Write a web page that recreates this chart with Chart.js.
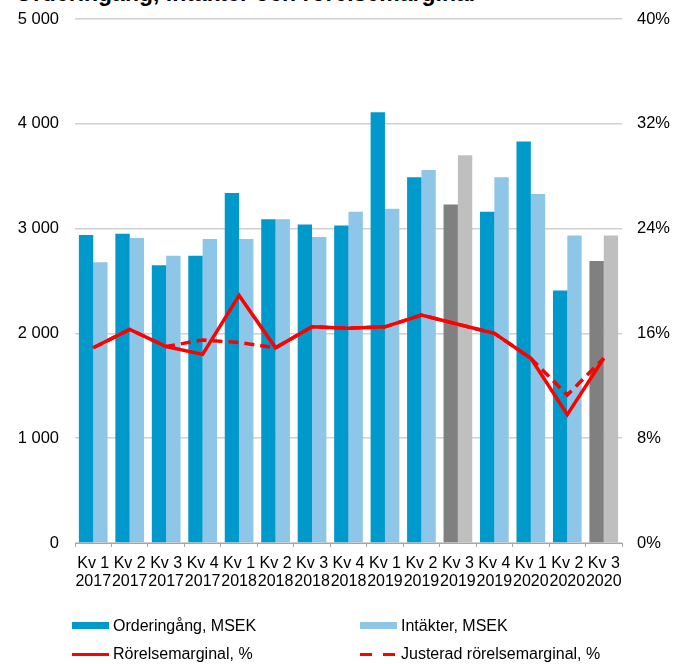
<!DOCTYPE html>
<html>
<head>
<meta charset="utf-8">
<script src="https://cdn.jsdelivr.net/npm/chart.js@4.4.1/dist/chart.umd.min.js"></script>
<style>
  html, body { margin: 0; padding: 0; background: #fff; }
  body { width: 675px; height: 664px; position: relative; overflow: hidden; font-family: "Liberation Sans", Arial, sans-serif; }
  #chart { position: absolute; left: 0; top: 0; }
  .title { position: absolute; left: 15px; top: -18px; font-size: 23px; line-height: 23px; font-weight: bold; color: #000; white-space: nowrap; }
  .legend-item { position: absolute; font-size: 16px; line-height: 16px; color: #000; white-space: nowrap; }
  .swatch { position: absolute; }
</style>
</head>
<body>
<div class="title">Orderingång, intäkter och rörelsemarginal</div>
<canvas id="chart" width="675" height="664"></canvas>
<div id="legend"></div>
<script>
const QUARTERS = ["Kv 1", "Kv 2", "Kv 3", "Kv 4", "Kv 1", "Kv 2", "Kv 3", "Kv 4", "Kv 1", "Kv 2", "Kv 3", "Kv 4", "Kv 1", "Kv 2", "Kv 3"];
const YEARS = ["2017", "2017", "2017", "2017", "2018", "2018", "2018", "2018", "2019", "2019", "2019", "2019", "2020", "2020", "2020"];

// MSEK, left axis
const ORDERINGANG = [2940, 2950, 2650, 2740, 3340, 3090, 3040, 3030, 4110, 3490, 3230, 3160, 3830, 2410, 2690];
const INTAKTER = [2680, 2910, 2740, 2900, 2900, 3090, 2920, 3160, 3190, 3560, 3700, 3490, 3330, 2935, 2935];

// %, right axis
const RORELSEMARGINAL = [14.9, 16.3, 15.0, 14.4, 18.9, 14.9, 16.5, 16.4, 16.5, 17.4, 16.7, 16.0, 14.1, 9.8, 14.1];
const JUSTERAD = [14.9, 16.3, 15.0, 15.5, 15.3, 14.9, 16.5, 16.4, 16.5, 17.4, 16.7, 16.0, 14.1, 11.3, 14.1];

// quarters shown in grey
const GREY_QUARTERS = [10, 14];

const LEFT_TICKS = [0, 1000, 2000, 3000, 4000, 5000];
const RIGHT_TICKS = [0, 8, 16, 24, 32, 40];

const SERIES_NAMES = ["Orderingång, MSEK", "Intäkter, MSEK", "Rörelsemarginal, %", "Justerad rörelsemarginal, %"];

const DARK_BLUE = "#0099CC";
const LIGHT_BLUE = "#8EC6E8";
const DARK_GREY = "#808080";
const LIGHT_GREY = "#BFBFBF";
const RED = "#FF0000";

const FONT = "'Liberation Sans', Arial, sans-serif";

function colorsFor(base, grey) {
  return QUARTERS.map((_, i) => (GREY_QUARTERS.includes(i) ? grey : base));
}

function formatThousands(value) {
  return String(value).replace(/\B(?=(\d{3})+(?!\d))/g, " ");
}

const labels = QUARTERS.map((q, i) => [q, YEARS[i]]);

new Chart(document.getElementById("chart"), {
  type: "bar",
  data: {
    labels,
    datasets: [
      {
        type: "line",
        label: SERIES_NAMES[2],
        data: RORELSEMARGINAL,
        yAxisID: "y1",
        borderColor: RED,
        borderWidth: 3.5,
        pointRadius: 0,
        tension: 0,
        order: 0,
      },
      {
        type: "line",
        label: SERIES_NAMES[3],
        data: JUSTERAD,
        yAxisID: "y1",
        borderColor: RED,
        borderWidth: 3.5,
        borderDash: [10, 6],
        pointRadius: 0,
        tension: 0,
        order: 1,
      },
      {
        label: SERIES_NAMES[0],
        data: ORDERINGANG,
        yAxisID: "y",
        backgroundColor: colorsFor(DARK_BLUE, DARK_GREY),
        categoryPercentage: 0.787,
        barPercentage: 1,
        order: 2,
      },
      {
        label: SERIES_NAMES[1],
        data: INTAKTER,
        yAxisID: "y",
        backgroundColor: colorsFor(LIGHT_BLUE, LIGHT_GREY),
        categoryPercentage: 0.787,
        barPercentage: 1,
        order: 3,
      },
    ],
  },
  options: {
    responsive: false,
    animation: false,
    events: [],
    layout: { padding: { top: 0, left: 0, right: 0, bottom: 0 } },
    plugins: {
      legend: { display: false },
      title: { display: false },
      tooltip: { enabled: false },
    },
    scales: {
      x: {
        offset: true,
        grid: { display: true, drawOnChartArea: false, drawTicks: true, tickLength: 4, color: "#A6A6A6", offset: true },
        border: { display: true, color: "#A6A6A6", width: 1 },
        ticks: {
          color: "#000",
          font: { family: FONT, size: 16, lineHeight: 1.1 },
          maxRotation: 0,
          autoSkip: false,
          padding: 8,
        },
        afterFit: (scale) => { scale.height = 121; },
      },
      y: {
        position: "left",
        min: 0,
        max: 5000,
        afterBuildTicks: (scale) => { scale.ticks = LEFT_TICKS.map((value) => ({ value })); },
        grid: { color: "#D0D0D0", lineWidth: 1.5, drawTicks: false },
        border: { display: false },
        ticks: {
          color: "#000",
          font: { family: FONT, size: 16.5, lineHeight: 1 },
          padding: 16,
          callback: (value) => formatThousands(value),
        },
        afterFit: (scale) => { scale.width = 75; scale.paddingTop = 19; },
      },
      y1: {
        position: "right",
        min: 0,
        max: 40,
        afterBuildTicks: (scale) => { scale.ticks = RIGHT_TICKS.map((value) => ({ value })); },
        grid: { display: false, drawTicks: false },
        border: { display: false },
        ticks: {
          color: "#000",
          font: { family: FONT, size: 16.5, lineHeight: 1 },
          padding: 15,
          callback: (value) => `${value}%`,
        },
        afterFit: (scale) => { scale.width = 53; scale.paddingTop = 19; },
      },
    },
  },
});

// legend below the chart, two columns like the original
const LEGEND_ITEMS = [
  { name: SERIES_NAMES[0], x: 72, y: 618, kind: "box", color: DARK_BLUE },
  { name: SERIES_NAMES[1], x: 360, y: 618, kind: "box", color: LIGHT_BLUE },
  { name: SERIES_NAMES[2], x: 72, y: 646, kind: "line", color: RED },
  { name: SERIES_NAMES[3], x: 360, y: 646, kind: "dash", color: RED },
];

const legend = document.getElementById("legend");
LEGEND_ITEMS.forEach((item) => {
  if (item.kind === "box") {
    legend.insertAdjacentHTML("beforeend",
      `<div class="swatch" style="left:${item.x}px;top:622px;width:37px;height:7px;background:${item.color}"></div>`);
  } else if (item.kind === "line") {
    legend.insertAdjacentHTML("beforeend",
      `<div class="swatch" style="left:${item.x}px;top:653px;width:37px;height:3px;background:${item.color}"></div>`);
  } else {
    legend.insertAdjacentHTML("beforeend",
      `<div class="swatch" style="left:${item.x}px;top:653px;width:12px;height:3px;background:${item.color}"></div>` +
      `<div class="swatch" style="left:${item.x + 23}px;top:653px;width:12px;height:3px;background:${item.color}"></div>`);
  }
  legend.insertAdjacentHTML("beforeend",
    `<div class="legend-item" style="left:${item.x + 41}px;top:${item.y}px">${item.name}</div>`);
});
</script>
</body>
</html>
